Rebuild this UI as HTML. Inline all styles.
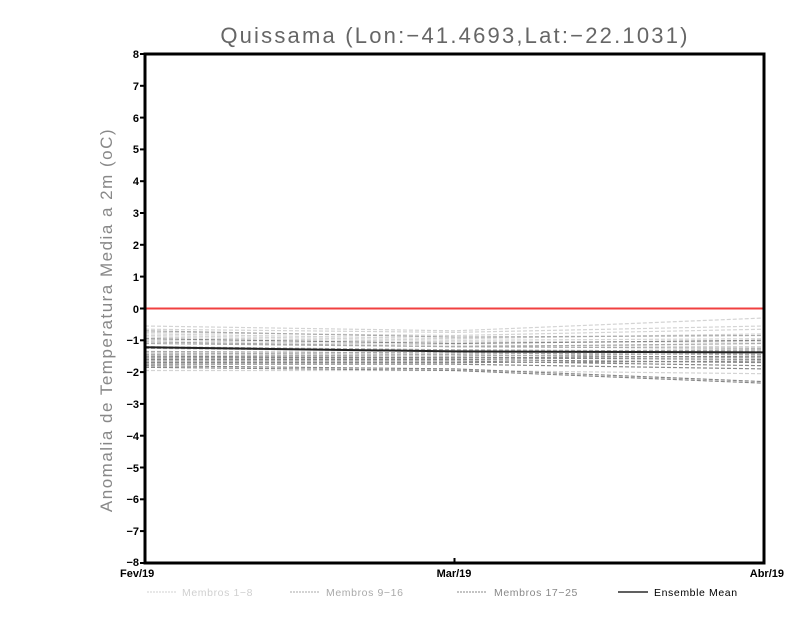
<!DOCTYPE html>
<html><head><style>
html,body{margin:0;padding:0;background:#fff;}
svg{display:block;}
</style></head><body>
<svg width="800" height="618" xmlns="http://www.w3.org/2000/svg" font-family="Liberation Sans, sans-serif">
<rect width="800" height="618" fill="#fff"/>
<text x="455" y="43" text-anchor="middle" font-size="22" fill="#666" letter-spacing="2.2">Quissama (Lon:−41.4693,Lat:−22.1031)</text>
<text transform="translate(112,320) rotate(-90)" text-anchor="middle" font-size="17" fill="#888" letter-spacing="1.5">Anomalia de Temperatura Media a 2m (oC)</text>
<g fill="none" stroke-width="1.2" stroke-dasharray="4,2">
<g stroke="#d4d4d4">
<polyline points="145,326 454.5,330.8 764,318"/>
<polyline points="145,329.2 454.5,332.4 764,326"/>
<polyline points="145,332.4 454.5,335.5 764,329.2"/>
<polyline points="145,333.9 454.5,338.7 764,333.9"/>
<polyline points="145,335.5 454.5,340.3 764,338.7"/>
<polyline points="145,337.1 454.5,341.9 764,341.9"/>
<polyline points="145,370.5 454.5,370.5 764,373.7"/>
<polyline points="145,340.3 454.5,345.1 764,346.7"/>
</g>
<g stroke="#aaa">
<polyline points="145,341.9 454.5,346.7 764,343.5"/>
<polyline points="145,343.5 454.5,346.7 764,348.3"/>
<polyline points="145,346.7 454.5,349.8 764,351.4"/>
<polyline points="145,348.3 454.5,351.4 764,349.8"/>
<polyline points="145,351.4 454.5,353 764,354.6"/>
<polyline points="145,353 454.5,354.6 764,357.8"/>
<polyline points="145,354.6 454.5,356.2 764,353"/>
<polyline points="145,330.8 454.5,337.1 764,335.5"/>
</g>
<g stroke="#888">
<polyline points="145,357.8 454.5,357.8 764,356.2"/>
<polyline points="145,359.4 454.5,359.4 764,362.6"/>
<polyline points="145,361 454.5,361 764,365.7"/>
<polyline points="145,362.6 454.5,362.6 764,361"/>
<polyline points="145,364.2 454.5,364.2 764,368.9"/>
<polyline points="145,365.7 454.5,368.9 764,381.6"/>
<polyline points="145,367.3 454.5,370.5 764,383.2"/>
<polyline points="145,338.7 454.5,343.5 764,340.3"/>
<polyline points="145,356.2 454.5,357.8 764,359.4"/>
</g>
</g>
<polyline fill="none" stroke="#222" stroke-width="2" points="145,347.3 454.5,351.4 764,352.4"/>
<line x1="145" y1="308.5" x2="764" y2="308.5" stroke="#f04040" stroke-width="2"/>
<rect x="145" y="54" width="619" height="509" fill="none" stroke="#000" stroke-width="3"/>
<g stroke="#000" stroke-width="2">
<line x1="140" y1="54" x2="145" y2="54"/><line x1="140" y1="85.8" x2="145" y2="85.8"/><line x1="140" y1="117.6" x2="145" y2="117.6"/><line x1="140" y1="149.4" x2="145" y2="149.4"/><line x1="140" y1="181.2" x2="145" y2="181.2"/><line x1="140" y1="213" x2="145" y2="213"/><line x1="140" y1="244.8" x2="145" y2="244.8"/><line x1="140" y1="276.6" x2="145" y2="276.6"/><line x1="140" y1="308.5" x2="145" y2="308.5"/><line x1="140" y1="340.3" x2="145" y2="340.3"/><line x1="140" y1="372.1" x2="145" y2="372.1"/><line x1="140" y1="403.9" x2="145" y2="403.9"/><line x1="140" y1="435.7" x2="145" y2="435.7"/><line x1="140" y1="467.5" x2="145" y2="467.5"/><line x1="140" y1="499.3" x2="145" y2="499.3"/><line x1="140" y1="531.1" x2="145" y2="531.1"/><line x1="140" y1="563" x2="145" y2="563"/>
<line x1="454.5" y1="558" x2="454.5" y2="563"/>
</g>
<g font-size="11" font-weight="bold" text-anchor="end" fill="#000">
<text x="139" y="58">8</text><text x="139" y="90">7</text><text x="139" y="122">6</text><text x="139" y="153">5</text><text x="139" y="185">4</text><text x="139" y="217">3</text><text x="139" y="249">2</text><text x="139" y="281">1</text><text x="139" y="313">0</text><text x="139" y="344">−1</text><text x="139" y="376">−2</text><text x="139" y="408">−3</text><text x="139" y="440">−4</text><text x="139" y="472">−5</text><text x="139" y="503">−6</text><text x="139" y="535">−7</text><text x="139" y="566">−8</text>
</g>
<g font-size="11" font-weight="bold" fill="#000">
<text x="120" y="577">Fev/19</text>
<text x="454" y="577" text-anchor="middle">Mar/19</text>
<text x="784" y="577" text-anchor="end">Abr/19</text>
</g>
<g font-size="10.5">
<line x1="147" y1="592" x2="177" y2="592" stroke="#d0d0d0" stroke-dasharray="2,1"/>
<text x="182" y="596" fill="#d0d0d0" letter-spacing="0.6">Membros 1−8</text>
<line x1="290" y1="592" x2="320" y2="592" stroke="#aaa" stroke-dasharray="2,1"/>
<text x="326" y="596" fill="#aaa" letter-spacing="0.6">Membros 9−16</text>
<line x1="457" y1="592" x2="487" y2="592" stroke="#888" stroke-dasharray="2,1"/>
<text x="494" y="596" fill="#888" letter-spacing="0.6">Membros 17−25</text>
<line x1="618" y1="592" x2="648" y2="592" stroke="#000" stroke-width="1.2"/>
<text x="654" y="596" fill="#000" letter-spacing="0.6">Ensemble Mean</text>
</g>
</svg>
</body></html>
